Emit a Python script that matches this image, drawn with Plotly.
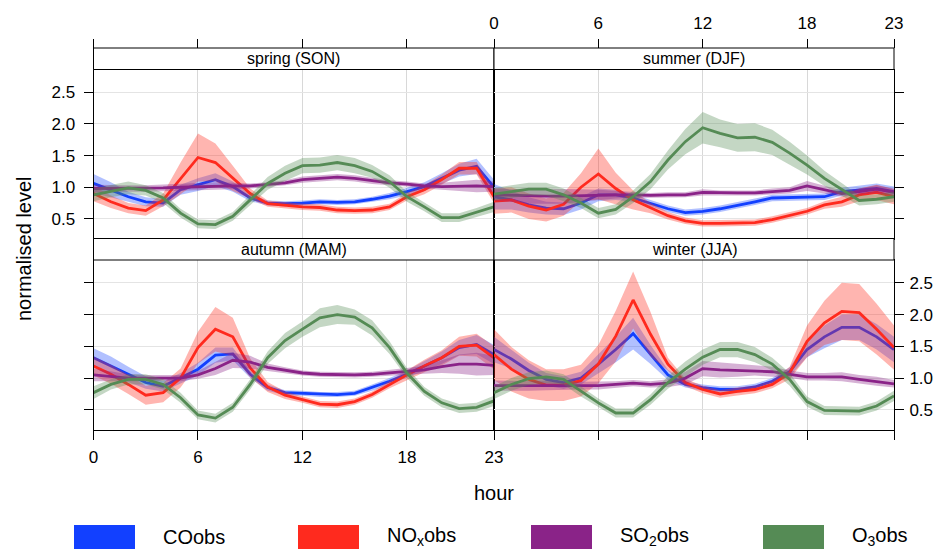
import plotly.graph_objects as go

hours = list(range(24))
x_tickvals = [0, 6, 12, 18, 23]
x_ticktext = ["0", "6", "12", "18", "23"]
y_tickvals = [0.5, 1.0, 1.5, 2.0, 2.5]
y_ticktext = ["0.5", "1.0", "1.5", "2.0", "2.5"]

series_names = ["COobs", "NOxobs", "SO2obs", "O3obs"]
legend_labels = ["COobs", "NO<sub>x</sub>obs", "SO<sub>2</sub>obs", "O<sub>3</sub>obs"]
series_colors = ["#1240FF", "#FF2A1E", "#8A2388", "#558B55"]
band_colors = ["rgba(18,64,255,0.33)", "rgba(255,42,30,0.35)",
               "rgba(138,35,136,0.35)", "rgba(85,139,85,0.35)"]

seasons = ["spring (SON)", "summer (DJF)", "autumn (MAM)", "winter (JJA)"]

# ---- spring (SON)
spring_co = [1.06, 0.96, 0.85, 0.77, 0.75, 0.96, 1.04, 1.12, 1.01, 0.83, 0.75, 0.74,
             0.75, 0.77, 0.76, 0.77, 0.81, 0.86, 0.93, 1.01, 1.14, 1.27, 1.33, 1.0]
spring_co_ci = [0.15, 0.12, 0.08, 0.07, 0.06, 0.08, 0.1, 0.1, 0.08, 0.05, 0.04, 0.04,
                0.04, 0.04, 0.04, 0.04, 0.04, 0.05, 0.06, 0.07, 0.08, 0.1, 0.12, 0.12]
spring_nox = [0.9, 0.77, 0.67, 0.63, 0.8, 1.14, 1.47, 1.39, 1.14, 0.9, 0.74, 0.71,
              0.69, 0.68, 0.64, 0.63, 0.64, 0.69, 0.85, 0.96, 1.12, 1.3, 1.3, 0.85]
spring_nox_ci = [0.12, 0.1, 0.08, 0.08, 0.1, 0.25, 0.38, 0.3, 0.2, 0.08, 0.05, 0.05,
                 0.05, 0.05, 0.05, 0.05, 0.05, 0.05, 0.06, 0.07, 0.08, 0.1, 0.1, 0.1]
spring_so2 = [0.98, 0.98, 0.98, 0.98, 0.99, 1.0, 1.01, 1.02, 1.02, 1.02, 1.04, 1.07,
              1.12, 1.14, 1.16, 1.14, 1.1, 1.07, 1.05, 1.02, 1.01, 1.02, 1.02, 1.01]
spring_so2_ci = [0.06, 0.05, 0.05, 0.05, 0.05, 0.05, 0.06, 0.06, 0.05, 0.04, 0.04, 0.04,
                 0.05, 0.05, 0.05, 0.05, 0.05, 0.04, 0.04, 0.04, 0.06, 0.08, 0.1, 0.08]
spring_o3 = [0.88, 0.94, 0.99, 0.95, 0.83, 0.59, 0.42, 0.41, 0.54, 0.8, 1.06, 1.22,
             1.34, 1.35, 1.39, 1.34, 1.25, 1.09, 0.85, 0.69, 0.52, 0.52, 0.6, 0.69]
spring_o3_ci = [0.1, 0.1, 0.1, 0.08, 0.08, 0.07, 0.07, 0.07, 0.07, 0.08, 0.1, 0.12,
                0.12, 0.12, 0.12, 0.12, 0.1, 0.1, 0.08, 0.07, 0.07, 0.07, 0.07, 0.08]

# ---- summer (DJF)
summer_co = [0.85, 0.8, 0.72, 0.67, 0.66, 0.75, 0.88, 0.88, 0.83, 0.75, 0.66, 0.6,
             0.62, 0.66, 0.71, 0.77, 0.83, 0.84, 0.84, 0.85, 0.93, 0.96, 0.98, 0.93]
summer_co_ci = [0.2, 0.15, 0.12, 0.1, 0.1, 0.1, 0.1, 0.08, 0.06, 0.05, 0.05, 0.05,
                0.05, 0.05, 0.05, 0.05, 0.05, 0.05, 0.05, 0.05, 0.06, 0.07, 0.08, 0.08]
summer_nox = [0.78, 0.8, 0.7, 0.64, 0.73, 1.0, 1.21, 0.98, 0.8, 0.67, 0.55, 0.47,
              0.43, 0.43, 0.43, 0.44, 0.49, 0.55, 0.62, 0.72, 0.77, 0.88, 0.92, 0.85]
summer_nox_ci = [0.2, 0.2, 0.2, 0.18, 0.18, 0.22, 0.4, 0.25, 0.15, 0.08, 0.06, 0.05,
                 0.05, 0.05, 0.05, 0.05, 0.05, 0.05, 0.05, 0.06, 0.08, 0.1, 0.12, 0.12]
summer_so2 = [0.88, 0.87, 0.86, 0.86, 0.86, 0.87, 0.88, 0.88, 0.88, 0.87, 0.88, 0.88,
              0.92, 0.91, 0.91, 0.91, 0.93, 0.95, 1.02, 0.96, 0.9, 0.93, 0.97, 0.92]
summer_so2_ci = [0.1, 0.1, 0.12, 0.12, 0.12, 0.1, 0.08, 0.06, 0.05, 0.04, 0.04, 0.04,
                 0.05, 0.04, 0.04, 0.04, 0.05, 0.05, 0.08, 0.06, 0.05, 0.05, 0.06, 0.06]
summer_o3 = [0.89, 0.93, 0.97, 0.97, 0.88, 0.75, 0.59, 0.65, 0.85, 1.09, 1.43, 1.72,
             1.94, 1.85, 1.78, 1.79, 1.71, 1.54, 1.35, 1.14, 0.96, 0.79, 0.81, 0.85]
summer_o3_ci = [0.1, 0.1, 0.1, 0.1, 0.1, 0.08, 0.08, 0.08, 0.1, 0.12, 0.15, 0.2,
                0.25, 0.22, 0.22, 0.22, 0.2, 0.18, 0.15, 0.12, 0.1, 0.08, 0.08, 0.08]

# ---- autumn (MAM)
autumn_co = [1.32, 1.19, 1.06, 0.93, 0.87, 1.0, 1.14, 1.36, 1.38, 1.06, 0.85, 0.77,
             0.76, 0.74, 0.74, 0.76, 0.85, 0.95, 1.06, 1.19, 1.32, 1.48, 1.53, 1.37]
autumn_co_ci = [0.15, 0.15, 0.12, 0.1, 0.08, 0.08, 0.1, 0.12, 0.1, 0.06, 0.05, 0.04,
                0.04, 0.04, 0.04, 0.04, 0.05, 0.05, 0.06, 0.08, 0.1, 0.12, 0.15, 0.15]
autumn_nox = [1.19, 1.06, 0.9, 0.73, 0.77, 1.0, 1.48, 1.77, 1.65, 1.16, 0.86, 0.73,
              0.66, 0.59, 0.58, 0.63, 0.74, 0.9, 1.05, 1.19, 1.32, 1.5, 1.52, 1.32]
autumn_nox_ci = [0.15, 0.15, 0.15, 0.15, 0.15, 0.15, 0.25, 0.35, 0.3, 0.15, 0.08, 0.06,
                 0.05, 0.05, 0.05, 0.05, 0.05, 0.06, 0.08, 0.1, 0.12, 0.15, 0.18, 0.18]
autumn_so2 = [1.05, 1.03, 1.0, 1.0, 1.0, 1.0, 1.05, 1.15, 1.28, 1.25, 1.17, 1.12,
              1.08, 1.06, 1.05, 1.05, 1.06, 1.08, 1.1, 1.13, 1.18, 1.22, 1.22, 1.2]
autumn_so2_ci = [0.1, 0.08, 0.06, 0.05, 0.05, 0.05, 0.06, 0.1, 0.12, 0.1, 0.06, 0.05,
                 0.04, 0.04, 0.04, 0.04, 0.04, 0.05, 0.05, 0.06, 0.1, 0.15, 0.18, 0.15]
autumn_o3 = [0.77, 0.9, 0.98, 0.98, 0.9, 0.69, 0.42, 0.37, 0.54, 0.9, 1.32, 1.59,
             1.77, 1.95, 2.0, 1.96, 1.79, 1.48, 1.08, 0.79, 0.61, 0.52, 0.54, 0.64]
autumn_o3_ci = [0.1, 0.08, 0.08, 0.08, 0.08, 0.08, 0.07, 0.07, 0.07, 0.08, 0.1, 0.12,
                0.12, 0.15, 0.15, 0.12, 0.12, 0.1, 0.08, 0.07, 0.07, 0.07, 0.07, 0.08]

# ---- winter (JJA)
winter_co = [1.45, 1.3, 1.12, 0.98, 0.93, 1.0, 1.22, 1.45, 1.7, 1.37, 1.05, 0.9,
             0.85, 0.82, 0.82, 0.86, 0.95, 1.1, 1.45, 1.65, 1.8, 1.8, 1.65, 1.45]
winter_co_ci = [0.2, 0.15, 0.12, 0.1, 0.1, 0.1, 0.15, 0.2, 0.25, 0.15, 0.08, 0.05,
                0.05, 0.05, 0.05, 0.05, 0.05, 0.07, 0.12, 0.18, 0.2, 0.2, 0.2, 0.2]
winter_nox = [1.37, 1.14, 0.98, 0.89, 0.89, 0.96, 1.22, 1.66, 2.23, 1.69, 1.22, 0.93,
              0.82, 0.75, 0.79, 0.82, 0.9, 1.08, 1.58, 1.87, 2.05, 2.03, 1.77, 1.48]
winter_nox_ci = [0.4, 0.35, 0.3, 0.25, 0.25, 0.25, 0.3, 0.4, 0.45, 0.35, 0.1, 0.06,
                 0.06, 0.06, 0.06, 0.06, 0.06, 0.1, 0.25, 0.35, 0.45, 0.45, 0.4, 0.35]
winter_so2 = [0.88, 0.88, 0.88, 0.88, 0.88, 0.88, 0.88, 0.9, 0.92, 0.9, 0.92, 1.0,
              1.15, 1.13, 1.12, 1.12, 1.1, 1.06, 1.02, 1.02, 1.02, 0.98, 0.95, 0.91]
winter_so2_ci = [0.08, 0.08, 0.08, 0.07, 0.06, 0.06, 0.06, 0.05, 0.05, 0.05, 0.06, 0.1,
                 0.12, 0.12, 0.1, 0.08, 0.08, 0.06, 0.06, 0.06, 0.07, 0.07, 0.07, 0.06]
winter_o3 = [0.77, 0.9, 0.99, 1.02, 0.98, 0.79, 0.61, 0.45, 0.45, 0.66, 0.93, 1.14,
             1.33, 1.45, 1.45, 1.37, 1.22, 0.98, 0.63, 0.49, 0.48, 0.48, 0.56, 0.72]
winter_o3_ci = [0.1, 0.1, 0.1, 0.1, 0.08, 0.08, 0.07, 0.07, 0.07, 0.08, 0.1, 0.12,
                0.12, 0.12, 0.12, 0.12, 0.1, 0.1, 0.08, 0.07, 0.07, 0.07, 0.07, 0.08]

panel_data = [
    [(spring_co, spring_co_ci), (spring_nox, spring_nox_ci), (spring_so2, spring_so2_ci), (spring_o3, spring_o3_ci)],
    [(summer_co, summer_co_ci), (summer_nox, summer_nox_ci), (summer_so2, summer_so2_ci), (summer_o3, summer_o3_ci)],
    [(autumn_co, autumn_co_ci), (autumn_nox, autumn_nox_ci), (autumn_so2, autumn_so2_ci), (autumn_o3, autumn_o3_ci)],
    [(winter_co, winter_co_ci), (winter_nox, winter_nox_ci), (winter_so2, winter_so2_ci), (winter_o3, winter_o3_ci)],
]

W, H = 944, 549
FONT = "Liberation Sans, Arial, sans-serif"
TICK_FONT = dict(size=17, color="black", family=FONT)


def fx(px):
    return px / W


def fy(py):
    return 1 - py / H


LEFT, MID, RIGHT = 93.5, 494, 894
TOP_STRIP, TOP_T, TOP_B = 48, 69.5, 238.5
BOT_T, BOT_B = 260, 429.5

fig = go.Figure()

axis_refs = [("x", "y"), ("x2", "y2"), ("x3", "y3"), ("x4", "y4")]

for p, (xr, yr) in enumerate(axis_refs):
    for s in range(4):
        mean, ci = panel_data[p][s]
        upper = [m + c for m, c in zip(mean, ci)]
        lower = [m - c for m, c in zip(mean, ci)]
        fig.add_trace(go.Scatter(
            x=hours + hours[::-1], y=upper + lower[::-1],
            fill="toself", fillcolor=band_colors[s], line=dict(width=0),
            mode="lines", hoverinfo="skip", showlegend=False,
            xaxis=xr, yaxis=yr))
        fig.add_trace(go.Scatter(
            x=hours, y=mean, mode="lines", name=series_names[s],
            line=dict(color=series_colors[s], width=2.8),
            showlegend=False, xaxis=xr, yaxis=yr))

YR = [0.19, 2.86]
common_x = dict(range=[0, 23], tickvals=x_tickvals, ticktext=x_ticktext,
                showgrid=True, gridcolor="#d8d8d8", gridwidth=1, automargin=False,
                showline=True, linecolor="black", linewidth=1, mirror=True,
                zeroline=False, tickfont=TICK_FONT,
                ticklen=9, tickcolor="black", tickwidth=1)
common_y = dict(range=YR, tickvals=y_tickvals, ticktext=y_ticktext,
                showgrid=True, gridcolor="#e4e4e4", gridwidth=1, automargin=False,
                showline=True, linecolor="black", linewidth=1, mirror=True,
                zeroline=False, tickfont=TICK_FONT,
                ticklen=9, tickcolor="black", tickwidth=1)

xl = [fx(LEFT), fx(MID)]
xrt = [fx(MID), fx(RIGHT)]
yt = [fy(TOP_B), fy(TOP_T)]
yb = [fy(BOT_B), fy(BOT_T)]

fig.update_layout(
    template="none",
    xaxis=dict(common_x, domain=xl, anchor="y", ticks="", showticklabels=False),
    yaxis=dict(common_y, domain=yt, anchor="x", side="left", ticks="outside",
               showticklabels=True, ticklabelstandoff=5),
    xaxis2=dict(common_x, domain=xrt, anchor="y2", ticks="", showticklabels=False),
    yaxis2=dict(common_y, domain=yt, anchor="x2", side="right", ticks="outside",
                showticklabels=False),
    xaxis3=dict(common_x, domain=xl, anchor="y3", side="bottom", ticks="outside",
                showticklabels=True, ticklabelstandoff=3),
    yaxis3=dict(common_y, domain=yb, anchor="x3", side="left", ticks="outside",
                showticklabels=False),
    xaxis4=dict(common_x, domain=xrt, anchor="y4", side="bottom", ticks="outside",
                showticklabels=False),
    yaxis4=dict(common_y, domain=yb, anchor="x4", side="right", ticks="outside",
                showticklabels=True, ticklabelstandoff=2),
    xaxis5=dict(range=[0, 23], tickvals=x_tickvals, ticktext=x_ticktext,
                overlaying="x", anchor="free", position=fy(TOP_STRIP), side="top",
                ticks="outside", ticklen=9, tickcolor="black", showticklabels=False,
                showgrid=False, showline=False, zeroline=False, automargin=False),
    xaxis6=dict(range=[0, 23], tickvals=x_tickvals, ticktext=x_ticktext,
                overlaying="x2", anchor="free", position=fy(TOP_STRIP), side="top",
                ticks="outside", ticklen=9, tickcolor="black", showticklabels=True,
                ticklabelstandoff=3, automargin=False, tickfont=TICK_FONT,
                showgrid=False, showline=False, zeroline=False),
)
# empty traces to activate the top tick axes
fig.add_trace(go.Scatter(x=[None], y=[None], xaxis="x5", yaxis="y", showlegend=False, hoverinfo="skip"))
fig.add_trace(go.Scatter(x=[None], y=[None], xaxis="x6", yaxis="y2", showlegend=False, hoverinfo="skip"))

shapes = []
annotations = []
strips = [
    (LEFT, MID, TOP_STRIP, TOP_T, seasons[0]),
    (MID, RIGHT, TOP_STRIP, TOP_T, seasons[1]),
    (LEFT, MID, TOP_B, BOT_T, seasons[2]),
    (MID, RIGHT, TOP_B, BOT_T, seasons[3]),
]
for x0, x1, y0, y1, label in strips:
    shapes.append(dict(type="rect", xref="paper", yref="paper",
                       x0=fx(x0), x1=fx(x1), y0=fy(y1), y1=fy(y0),
                       fillcolor="white", line=dict(color="black", width=1)))
    annotations.append(dict(x=fx((x0 + x1) / 2), y=fy((y0 + y1) / 2), xref="paper", yref="paper",
                            text=label, showarrow=False, xanchor="center", yanchor="middle",
                            font=dict(size=16, color="black", family=FONT)))

annotations.append(dict(x=fx(24), y=fy(249), xref="paper", yref="paper",
                        text="normalised level", textangle=-90, showarrow=False,
                        xanchor="center", yanchor="middle",
                        font=dict(size=20, color="black", family=FONT)))
annotations.append(dict(x=fx(494), y=fy(493), xref="paper", yref="paper",
                        text="hour", showarrow=False, xanchor="center", yanchor="middle",
                        font=dict(size=20, color="black", family=FONT)))

legend_rect_x = [74, 298, 531, 763]
for i in range(4):
    x0 = legend_rect_x[i]
    shapes.append(dict(type="rect", xref="paper", yref="paper",
                       x0=fx(x0), x1=fx(x0 + 61), y0=fy(551), y1=fy(525),
                       fillcolor=series_colors[i], line=dict(width=0)))
    annotations.append(dict(x=fx(x0 + 87), y=fy(536.5), xref="paper", yref="paper",
                            text=legend_labels[i], showarrow=False,
                            xanchor="left", yanchor="middle",
                            font=dict(size=20, color="black", family=FONT)))

fig.update_layout(
    width=W, height=H,
    margin=dict(l=0, r=0, t=0, b=0, pad=0),
    autosize=False,
    paper_bgcolor="white", plot_bgcolor="white",
    showlegend=False,
    shapes=shapes, annotations=annotations,
    font=dict(family=FONT, color="black"),
)

fig.write_html(
    "out.html",
    config={"displayModeBar": False},
    post_script="document.body.style.margin='0';document.body.style.padding='0';"
                "document.body.style.overflow='hidden';",
)
